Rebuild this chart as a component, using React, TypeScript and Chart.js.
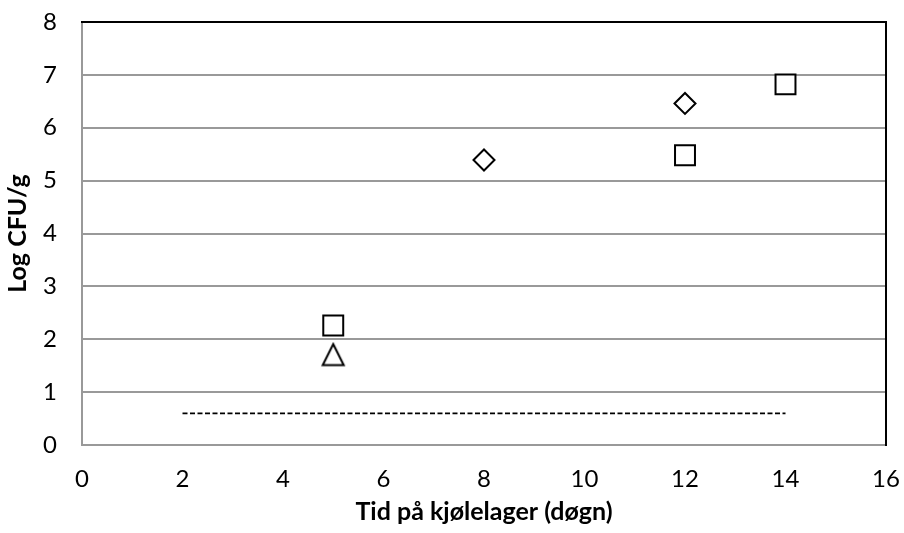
import React, { useEffect, useRef } from "react";
import { Chart, registerables } from "chart.js";

Chart.register(...registerables);

const squareX = [5, 12, 14];
const squareY = [2.26, 5.48, 6.82];
const diamondX = [8, 12];
const diamondY = [5.39, 6.46];
const triangleX = [5];
const triangleY = [1.71];
const limitX = [2, 14];
const limitY = [0.6, 0.6];

const xTickLabels = ["0", "2", "4", "6", "8", "10", "12", "14", "16"];
const yTickLabels = ["0", "1", "2", "3", "4", "5", "6", "7", "8"];

const xTitle = "Tid på kjølelager (døgn)";
const yTitle = "Log CFU/g";

const FONT = "Lato, 'Open Sans', sans-serif";

function makeTriangle(): HTMLCanvasElement {
  const c = document.createElement("canvas");
  c.width = 26;
  c.height = 26;
  const ctx = c.getContext("2d")!;
  ctx.lineWidth = 2;
  ctx.strokeStyle = "#000";
  ctx.fillStyle = "#fff";
  ctx.beginPath();
  ctx.moveTo(13, 2.5);
  ctx.lineTo(23.5, 23.5);
  ctx.lineTo(2.5, 23.5);
  ctx.closePath();
  ctx.fill();
  ctx.stroke();
  return c;
}

const zip = (xs: number[], ys: number[]) => xs.map((x, i) => ({ x, y: ys[i] }));

const frameBorder = {
  id: "frameBorder",
  afterDatasetsDraw(chart: any) {
    const { ctx, chartArea } = chart;
    ctx.save();
    ctx.strokeStyle = "#000";
    ctx.lineWidth = 2;
    ctx.beginPath();
    ctx.moveTo(chartArea.left - 1, chartArea.top);
    ctx.lineTo(chartArea.right, chartArea.top);
    ctx.lineTo(chartArea.right, chartArea.bottom + 1);
    ctx.stroke();
    ctx.restore();
  },
};

export default function App() {
  const ref = useRef<HTMLCanvasElement | null>(null);

  useEffect(() => {
    if (!ref.current) return;
    const tri = makeTriangle();
    const chart = new Chart(ref.current, {
      type: "scatter",
      data: {
        datasets: [
          {
            label: "limit",
            type: "line",
            data: zip(limitX, limitY),
            borderColor: "#000",
            borderWidth: 1.75,
            borderDash: [5, 2.5],
            pointRadius: 0,
            fill: false,
          } as any,
          {
            label: "square",
            data: zip(squareX, squareY),
            pointStyle: "rect",
            pointRadius: 14.1,
            borderColor: "#000",
            backgroundColor: "#fff",
            borderWidth: 2,
          },
          {
            label: "diamond",
            data: zip(diamondX, diamondY),
            pointStyle: "rectRot",
            pointRadius: 10.5,
            borderColor: "#000",
            backgroundColor: "#fff",
            borderWidth: 2,
          },
          {
            label: "triangle",
            data: zip(triangleX, triangleY),
            pointStyle: tri as any,
            pointRadius: 12,
            borderColor: "#000",
            backgroundColor: "#fff",
            borderWidth: 2,
          },
        ],
      },
      options: {
        animation: false,
        responsive: false,
        maintainAspectRatio: false,
        layout: { padding: { top: 22, right: 18, left: 0, bottom: 0 } },
        plugins: {
          legend: { display: false },
          tooltip: { enabled: false },
        },
        scales: {
          x: {
            type: "linear",
            min: 0,
            max: 16,
            afterBuildTicks: (s: any) => {
              s.ticks = xTickLabels.map((v) => ({ value: Number(v) }));
            },
            afterFit: (s: any) => {
              s.height = 88;
              s.paddingLeft = 0;
              s.paddingRight = 0;
            },
            grid: { display: false, drawTicks: false },
            border: { display: true, color: "#999999", width: 2 },
            ticks: {
              color: "#000",
              padding: 20,
              maxRotation: 0,
              font: { family: FONT, size: 24 },
              callback: (v: any) => String(v),
            },
            title: {
              display: true,
              text: xTitle,
              color: "#000",
              font: { family: FONT, size: 25, weight: "bold" },
              padding: { top: 6, bottom: 6 },
            },
          },
          y: {
            type: "linear",
            min: 0,
            max: 8,
            afterBuildTicks: (s: any) => {
              s.ticks = yTickLabels.map((v) => ({ value: Number(v) }));
            },
            afterFit: (s: any) => {
              s.width = 82;
              s.paddingTop = 0;
              s.paddingBottom = 0;
            },
            grid: { display: true, color: "#999999", lineWidth: 2, drawTicks: false },
            border: { display: true, color: "#999999", width: 2 },
            ticks: {
              color: "#000",
              padding: 25,
              font: { family: FONT, size: 24 },
              callback: (v: any) => String(v),
            },
            title: {
              display: true,
              text: yTitle,
              color: "#000",
              font: { family: FONT, size: 25, weight: "bold" },
              padding: { top: 3, bottom: 3 },
            },
          },
        },
      },
      plugins: [frameBorder],
    });
    return () => chart.destroy();
  }, []);

  return (
    <div style={{ position: "fixed", left: 0, top: 0, width: 904, height: 533, background: "#fff" }}>
      <canvas ref={ref} width={904} height={533} style={{ width: 904, height: 533 }} />
    </div>
  );
}
